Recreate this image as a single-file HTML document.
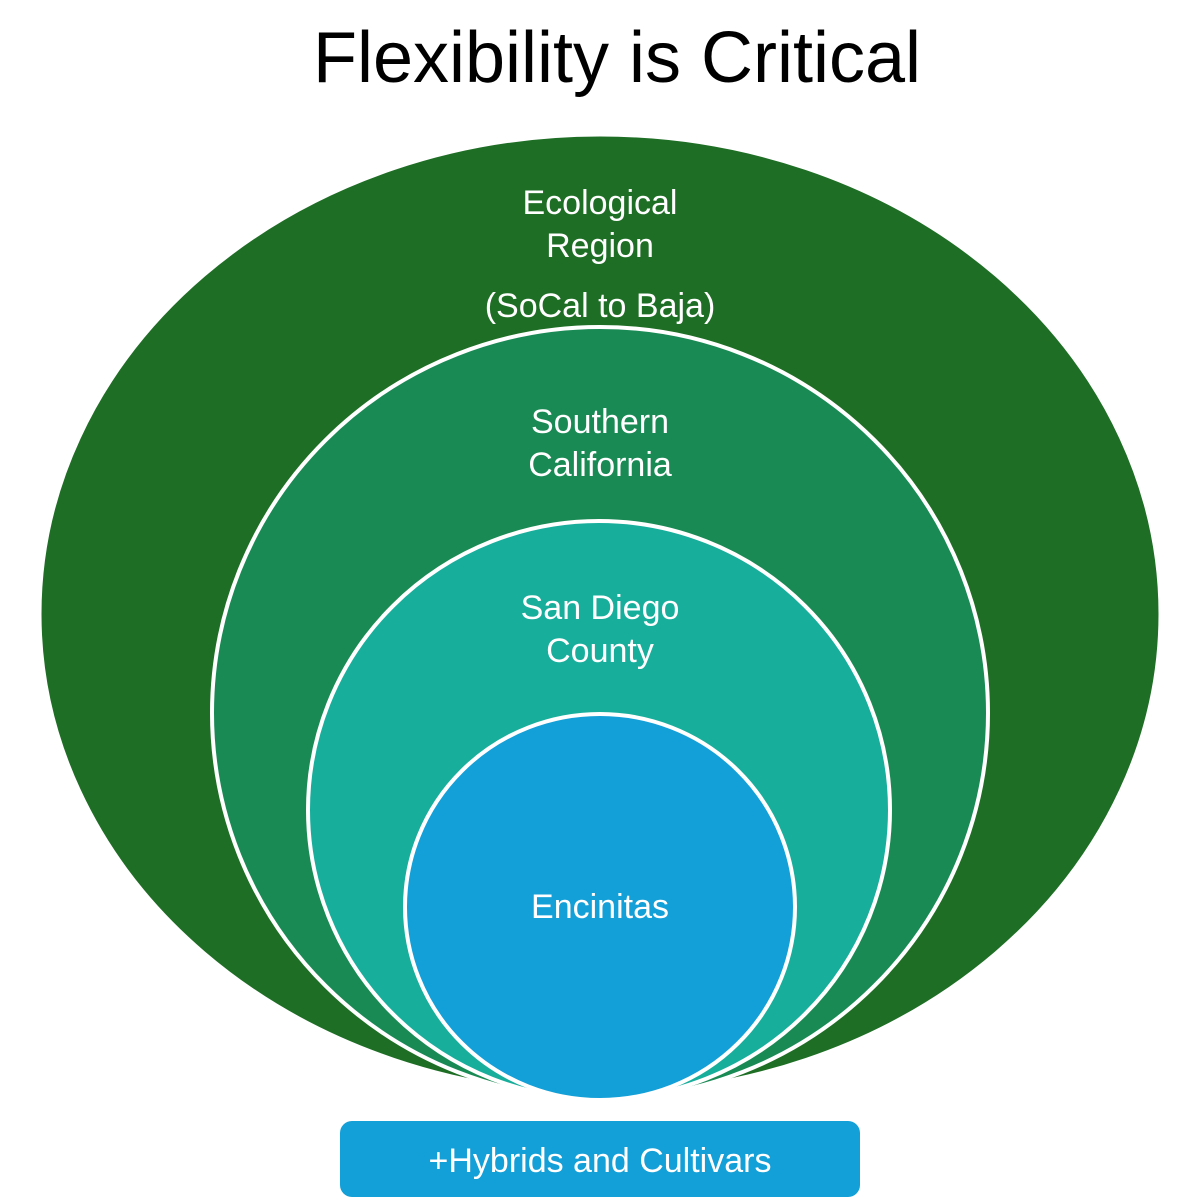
<!DOCTYPE html>
<html><head><style>
html,body{margin:0;padding:0;background:#fff;width:1200px;height:1200px;overflow:hidden}
</style></head><body>
<svg width="1200" height="1200" viewBox="0 0 1200 1200" xmlns="http://www.w3.org/2000/svg" font-family="Liberation Sans, sans-serif">
<text x="617" y="82" font-size="72" text-anchor="middle" fill="#000">Flexibility is Critical</text>
<ellipse cx="600" cy="614" rx="560" ry="479" fill="#1e6e25" stroke="#fff" stroke-width="3"/>
<ellipse cx="600" cy="713" rx="388" ry="386" fill="#1a8a55" stroke="#fff" stroke-width="4"/>
<ellipse cx="599" cy="810" rx="291" ry="289" fill="#17ae9c" stroke="#fff" stroke-width="4"/>
<ellipse cx="600" cy="907" rx="195" ry="193" fill="#139fd7" stroke="#fff" stroke-width="4"/>
<g fill="#fff" font-size="34" text-anchor="middle">
<text x="600" y="214">Ecological</text>
<text x="600" y="257">Region</text>
<text x="600" y="317">(SoCal to Baja)</text>
<text x="600" y="433">Southern</text>
<text x="600" y="476">California</text>
<text x="600" y="619">San Diego</text>
<text x="600" y="662">County</text>
<text x="600" y="918">Encinitas</text>
</g>
<rect x="340" y="1121" width="520" height="76" rx="12" fill="#139fd7"/>
<text x="600" y="1172" font-size="34" text-anchor="middle" fill="#fff">+Hybrids and Cultivars</text>
</svg>
</body></html>
